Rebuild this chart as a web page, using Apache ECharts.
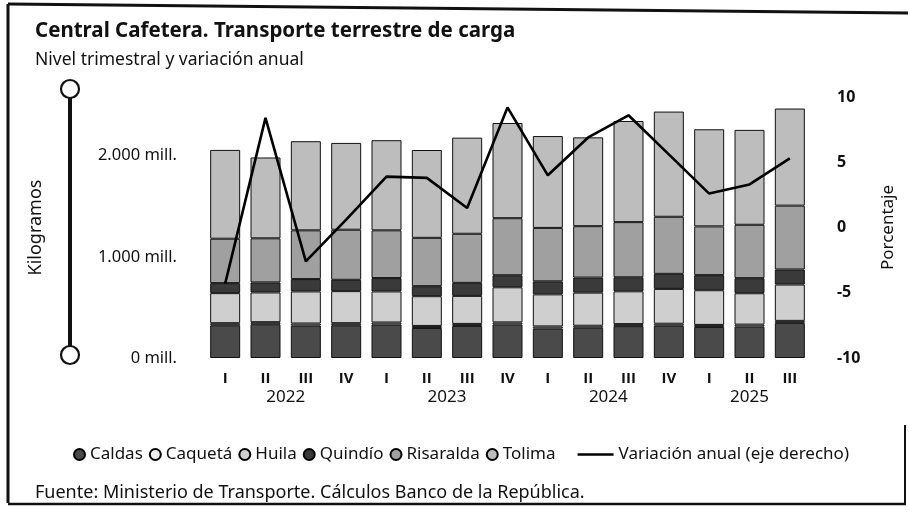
<!DOCTYPE html>
<html>
<head>
<meta charset="utf-8">
<script src="https://cdn.jsdelivr.net/npm/echarts@6/dist/echarts.min.js"></script>
<style>
  html, body { margin: 0; padding: 0; background: #fff; }
  #chart { width: 910px; height: 514px; }
</style>
</head>
<body>
<div id="chart"></div>
<script>
// ---- Data ----
const years    = ['2022','2022','2022','2022','2023','2023','2023','2023','2024','2024','2024','2024','2025','2025','2025'];
const quarters = ['I','II','III','IV','I','II','III','IV','I','II','III','IV','I','II','III'];
const yearLabels = ['2022','2023','2024','2025'];

// millones de kilogramos
const caldas    = [324, 334, 321, 324, 331, 297, 317, 332, 292, 299, 315, 319, 307, 310, 347];
const caqueta   = [ 20,  20,  20,  20,  20,  20,  20,  20,  20,  20,  20,  20,  20,  20,  20];
const huila     = [297, 294, 317, 317, 307, 294, 277, 347, 317, 327, 324, 344, 343, 310, 359];
const quindio   = [ 99,  99, 122, 112, 132,  99, 129, 119, 129, 149, 139, 149, 149, 149, 149];
const risaralda = [439, 436, 482, 495, 472, 478, 485, 564, 528, 508, 545, 564, 482, 528, 631];
const tolima    = [878, 799, 881, 858, 891, 868, 950, 941, 908, 878,1000,1040, 960, 938, 960];
// porcentaje
const variacion = [-4.3, 8.4, -2.6, 0.6, 3.9, 3.8, 1.5, 9.2, 4.0, 6.9, 8.6, 5.6, 2.6, 3.3, 5.3];

const leftTickLabels = { 0: '0 mill.', 1000: '1.000 mill.', 2000: '2.000 mill.' };

const categories = years.map((y, i) => y + ' ' + quarters[i]);
const FONT = "'Noto Sans', sans-serif";
const QFONT = "'Open Sans', 'Liberation Sans', sans-serif";

const barSeries = [
  { name: 'Caldas',    data: caldas,    color: '#4a4a4a' },
  { name: 'Caquetá',   data: caqueta,   color: '#eeeeee' },
  { name: 'Huila',     data: huila,     color: '#cfcfcf' },
  { name: 'Quindío',   data: quindio,   color: '#3a3a3a' },
  { name: 'Risaralda', data: risaralda, color: '#a0a0a0' },
  { name: 'Tolima',    data: tolima,    color: '#bdbdbd' }
];

// Year label positions: centre of each year's quarters on a continuous index axis
const yearCenters = yearLabels.map(y => {
  const idx = years.map((v, i) => v === y ? i : -1).filter(i => i >= 0);
  return (idx[0] + idx[idx.length - 1]) / 2;
});

const chart = echarts.init(document.getElementById('chart'), null, { renderer: 'canvas' });

const option = {
  backgroundColor: '#ffffff',
  textStyle: { fontFamily: FONT, color: '#111' },
  animation: false,
  title: [
    { text: 'Central Cafetera. Transporte terrestre de carga', left: 35, top: 21, padding: 0,
      textStyle: { fontFamily: FONT, fontSize: 20.5, fontWeight: 'bold', color: '#111' } },
    { text: 'Nivel trimestral y variación anual', left: 35, top: 51, padding: 0,
      textStyle: { fontFamily: FONT, fontSize: 17.5, fontWeight: 'normal', color: '#111' } },
    { text: 'Fuente: Ministerio de Transporte. Cálculos Banco de la República.', left: 35, top: 484, padding: 0,
      textStyle: { fontFamily: FONT, fontSize: 18, fontWeight: 'normal', color: '#111' } }
  ],
  grid: { left: 205, right: 100, top: 97, height: 261, containLabel: false },
  legend: [
    {
      data: barSeries.map(s => ({ name: s.name, itemStyle: { borderColor: '#000', borderWidth: 2 } })),
      left: 68, top: 441, itemWidth: 11, itemHeight: 11, itemGap: 6, icon: 'circle',
      textStyle: { fontFamily: FONT, fontSize: 17, color: '#111' }
    },
    {
      data: [{ name: 'Variación anual (eje derecho)', icon: 'rect', itemStyle: { color: '#000' } }],
      right: 56, top: 441, itemWidth: 36, itemHeight: 2.5,
      textStyle: { fontFamily: FONT, fontSize: 17, color: '#111' }
    }
  ],
  xAxis: [
    {
      type: 'category', data: categories, boundaryGap: true,
      axisLine: { show: false }, axisTick: { show: false },
      axisLabel: { formatter: (v, i) => quarters[i], fontFamily: QFONT, fontWeight: 'bold', fontSize: 15, color: '#111', margin: 13, interval: 0 }
    },
    {
      type: 'value', position: 'bottom', min: -0.5, max: quarters.length - 0.5,
      axisLine: { show: false }, axisTick: { show: false }, splitLine: { show: false },
      axisLabel: {
        customValues: yearCenters,
        formatter: v => { const k = yearCenters.indexOf(v); return k >= 0 ? yearLabels[k] : ''; },
        fontFamily: FONT, fontSize: 17, color: '#111', margin: 31
      }
    }
  ],
  yAxis: [
    {
      type: 'value', min: 0, max: 2580, interval: 1000,
      name: 'Kilogramos', nameLocation: 'middle', nameGap: 160,
      nameTextStyle: { fontFamily: FONT, fontSize: 18, color: '#111' },
      axisLine: { show: false }, axisTick: { show: false }, splitLine: { show: false },
      axisLabel: { formatter: v => leftTickLabels[v] || '', fontFamily: FONT, fontSize: 16.5, color: '#111', margin: 28 }
    },
    {
      type: 'value', min: -10, max: 10, interval: 5, position: 'right',
      name: 'Porcentaje', nameLocation: 'middle', nameGap: 70,
      nameTextStyle: { fontFamily: FONT, fontSize: 17, color: '#111' },
      axisLine: { show: false }, axisTick: { show: false }, splitLine: { show: false },
      axisLabel: { fontFamily: FONT, fontSize: 16, fontWeight: 'bold', color: '#111', margin: 27 }
    }
  ],
  series: barSeries.map(s => ({
    name: s.name, type: 'bar', stack: 'total', data: s.data, barWidth: 30,
    itemStyle: { color: s.color, borderColor: '#111', borderWidth: 1 }
  })).concat([{
    name: 'Variación anual (eje derecho)', type: 'line', yAxisIndex: 1, data: variacion,
    symbol: 'none', z: 10,
    lineStyle: { color: '#000', width: 2.6 }, itemStyle: { color: '#000' }
  }]),
  graphic: [
    // frame
    { type: 'polyline', shape: { points: [[8, 4], [908, 13]] }, style: { stroke: '#111', lineWidth: 3, fill: null } },
    { type: 'line', shape: { x1: 8, y1: 4, x2: 8, y2: 503 }, style: { stroke: '#111', lineWidth: 3 } },
    { type: 'line', shape: { x1: 8, y1: 504, x2: 906, y2: 504 }, style: { stroke: '#111', lineWidth: 2.5 } },
    { type: 'line', shape: { x1: 905, y1: 425, x2: 905, y2: 504 }, style: { stroke: '#111', lineWidth: 2 } },
    // decorative left axis bar with end circles
    { type: 'line', shape: { x1: 70, y1: 98, x2: 70, y2: 346 }, style: { stroke: '#111', lineWidth: 4 } },
    { type: 'circle', shape: { cx: 70, cy: 89, r: 9 }, style: { stroke: '#111', lineWidth: 2.2, fill: '#fff' } },
    { type: 'circle', shape: { cx: 70, cy: 355, r: 9 }, style: { stroke: '#111', lineWidth: 2.2, fill: '#fff' } }
  ]
};

chart.setOption(option);
</script>
</body>
</html>
